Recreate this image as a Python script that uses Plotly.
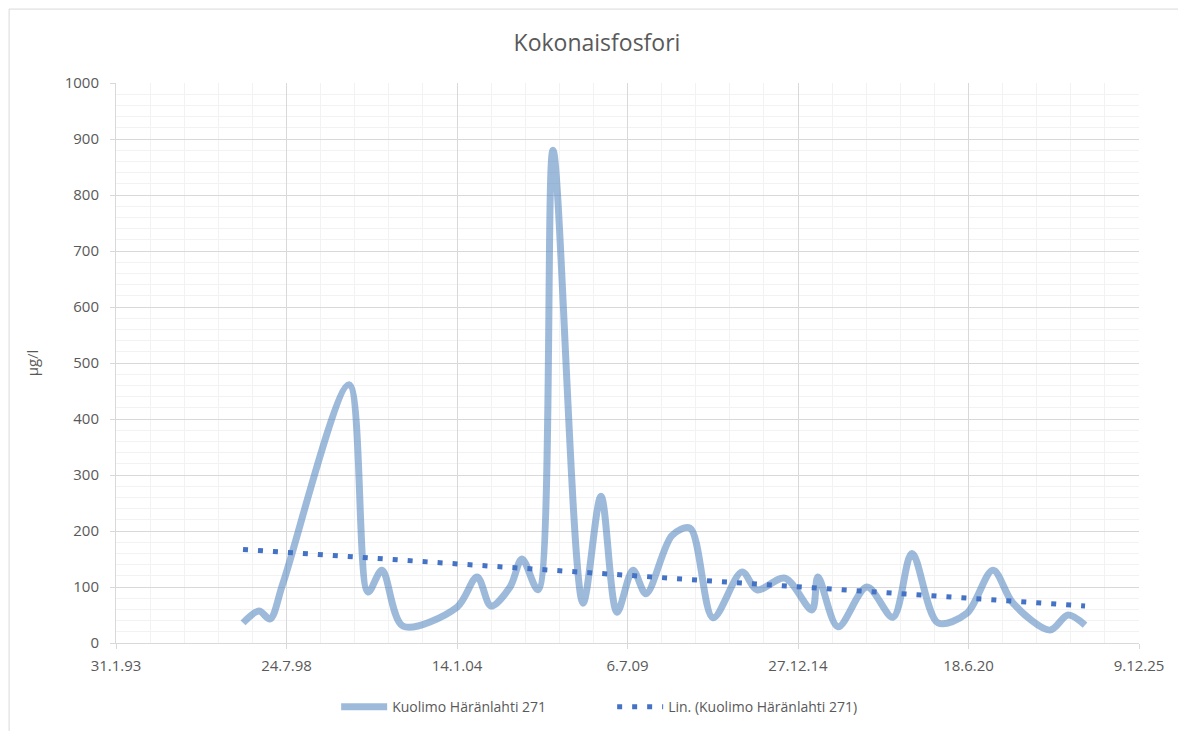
import plotly.graph_objects as go

# Sample dates and total phosphorus values (µg/l)
dates = [
    "1997-03-01", "1997-09-04", "1998-01-11", "1998-06-13", "2000-07-26",
    "2001-03-06", "2001-08-17", "2002-04-21", "2004-01-14", "2004-09-06",
    "2005-02-16", "2005-09-27", "2006-02-14", "2006-08-21", "2007-02-13",
    "2008-01-31", "2008-08-29", "2009-03-05", "2009-09-08", "2010-02-08",
    "2010-12-10", "2011-07-09", "2012-04-04", "2013-03-10", "2013-09-02",
    "2014-07-27", "2015-06-09", "2015-08-18", "2016-04-09", "2017-03-15",
    "2018-01-14", "2018-08-25", "2019-06-26", "2020-05-30", "2021-04-01",
    "2021-11-22", "2023-01-30", "2023-08-29", "2024-03-16",
]
values = [
    36, 57, 43, 107, 461,
    91, 130, 30, 64, 118,
    66, 100, 150, 95, 880,
    71, 262, 55, 130, 88,
    192, 205, 45, 127, 95,
    116, 59, 118, 29, 100,
    46, 160, 36, 53, 130,
    71, 23, 50, 32,
]

# Linear trend end points as drawn
trend_dates = [dates[0], dates[-1]]
trend_values = [167, 66]

tick_dates = ["1993-01-31", "1998-07-24", "2004-01-14", "2009-07-06",
              "2014-12-27", "2020-06-18", "2025-12-09"]
tick_text = ["31.1.93", "24.7.98", "14.1.04", "6.7.09", "27.12.14", "18.6.20", "9.12.25"]

SERIES_NAME = "Kuolimo Häränlahti 271"
TEXT = "#595959"
FONT = "Open Sans"
DAY_MS = 86400000

fig = go.Figure()
fig.add_trace(
    go.Scatter(
        x=dates,
        y=values,
        mode="lines",
        name=SERIES_NAME,
        line=dict(color="rgba(79,129,189,0.55)", width=7, shape="spline", smoothing=0.9),
    )
)
fig.add_trace(
    go.Scatter(
        x=trend_dates,
        y=trend_values,
        mode="lines",
        name=f"Lin. ({SERIES_NAME})",
        line=dict(color="#4472C4", width=5, dash="5px,10px"),
    )
)

# Outer chart border
fig.add_shape(
    type="rect", xref="paper", yref="paper",
    x0=-0.1045, x1=1.2, y0=-0.3, y1=1.132,
    line=dict(color="#D9D9D9", width=1), layer="below",
)

fig.update_layout(
    width=1178,
    height=723,
    margin=dict(l=108, r=47, t=75, b=88),
    paper_bgcolor="white",
    plot_bgcolor="white",
    font=dict(family=FONT, color=TEXT, size=15),
    title=dict(text="Kokonaisfosfori", x=0.5, xanchor="center",
               y=0.952, yanchor="middle", font=dict(size=23, color=TEXT)),
    showlegend=True,
    legend=dict(orientation="h", x=0.485, xanchor="center",
                yref="container", y=0.033, yanchor="middle",
                entrywidth=215, itemwidth=46,
                font=dict(size=14, color=TEXT)),
    xaxis=dict(
        type="date",
        range=[tick_dates[0], tick_dates[-1]],
        tickmode="array",
        tickvals=tick_dates,
        ticktext=tick_text,
        showgrid=True,
        gridcolor="#D9D9D9",
        showline=True,
        linecolor="#D9D9D9",
        ticks="outside",
        ticklen=5,
        tickcolor="#D9D9D9",
        ticklabelstandoff=4,
        zeroline=False,
        minor=dict(tickmode="linear", tick0=tick_dates[0], dtick=400 * DAY_MS,
                   showgrid=True, gridcolor="#F2F2F2", ticks=""),
    ),
    yaxis=dict(
        range=[0, 1000],
        dtick=100,
        showgrid=True,
        gridcolor="#D9D9D9",
        showline=True,
        linecolor="#D9D9D9",
        ticks="outside",
        ticklen=5,
        tickcolor="#D9D9D9",
        ticklabelstandoff=8,
        zeroline=False,
        title=dict(text="µg/l", standoff=22, font=dict(size=15, color=TEXT)),
        minor=dict(dtick=20, showgrid=True, gridcolor="#F2F2F2", ticks=""),
    ),
)

fig.write_html("out.html")
